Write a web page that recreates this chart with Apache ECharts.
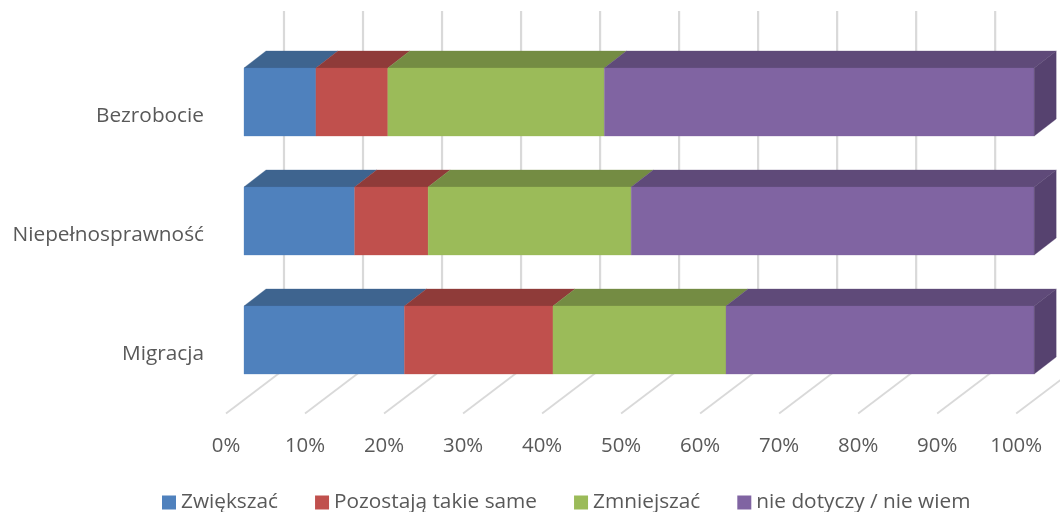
<!DOCTYPE html>
<html>
<head>
<meta charset="utf-8">
<script src="https://cdn.jsdelivr.net/npm/echarts@6/dist/echarts.min.js"></script>
<style>
  html, body { margin: 0; padding: 0; background: #fff; }
  #chart { width: 1060px; height: 512px; }
</style>
</head>
<body>
<div id="chart"></div>
<script>
// Responses per topic, in percent of all answers
const categories = ['Bezrobocie', 'Niepełnosprawność', 'Migracja'];
const seriesNames = ['Zwiększać', 'Pozostają takie same', 'Zmniejszać', 'nie dotyczy / nie wiem'];
const increase = [9.1, 14.0, 20.3];
const unchanged = [9.1, 9.3, 18.8];
const decrease = [27.4, 25.7, 21.9];
const notApplicable = [54.4, 51.0, 39.0];
const ticks = [0, 10, 20, 30, 40, 50, 60, 70, 80, 90, 100];

const frontColors = ['#4F81BD', '#C0504D', '#9BBB59', '#8064A2'];
const topColors = ['#3E648F', '#8F3B39', '#748C43', '#5F4A79'];
const sideColor = '#56426F';

const FONT = '"Open Sans", sans-serif';
const TEXT = '#595959';
const GRID = '#D9D9D9';

// Oblique projection of the chart box, in pixels
const FLOOR_DX = 58, FLOOR_DY = -44;
const BAR_INSET_DX = 18, BAR_INSET_DY = -14;
const BAR_DX = 22, BAR_DY = -17;
const WALL_TOP = 11;
const BAR_RATIO = 0.572;

function poly(points, fill) {
  return { type: 'polygon', shape: { points }, style: { fill, stroke: fill, lineWidth: 0.3 } };
}

// Floor diagonal plus back-wall upright for one tick
function renderGridline(params, api) {
  const x = api.coord([api.value(0), categories[0]])[0];
  const base = params.coordSys.y + params.coordSys.height;
  const style = { stroke: GRID, fill: null };
  return {
    type: 'group',
    children: [
      { type: 'line', shape: { x1: x, y1: base, x2: x + FLOOR_DX, y2: base + FLOOR_DY },
        style: { ...style, lineWidth: 1.8 } },
      { type: 'line', shape: { x1: x + FLOOR_DX, y1: base + FLOOR_DY, x2: x + FLOOR_DX, y2: WALL_TOP },
        style: { ...style, lineWidth: 2.2 } }
    ]
  };
}

// One stacked segment drawn as an oblique box
function makeSegmentRenderer(index, isLast) {
  return function (params, api) {
    const start = api.coord([api.value(1), api.value(0)]);
    const end = api.coord([api.value(2), api.value(0)]);
    const h = api.size([0, 1])[1] * BAR_RATIO;
    const x0 = start[0] + BAR_INSET_DX;
    const x1 = end[0] + BAR_INSET_DX;
    const yTop = start[1] + BAR_INSET_DY - h / 2;
    const yBot = yTop + h;
    const children = [
      poly([[x0, yTop], [x1, yTop], [x1 + BAR_DX, yTop + BAR_DY], [x0 + BAR_DX, yTop + BAR_DY]], topColors[index]),
      poly([[x0, yTop], [x1, yTop], [x1, yBot], [x0, yBot]], frontColors[index])
    ];
    if (isLast) {
      children.push(poly([[x1, yTop], [x1 + BAR_DX, yTop + BAR_DY], [x1 + BAR_DX, yBot + BAR_DY], [x1, yBot]], sideColor));
    }
    return { type: 'group', children };
  };
}

const valueRows = [increase, unchanged, decrease, notApplicable];
const running = categories.map(() => 0);
const barSeries = valueRows.map((row, s) => {
  const data = row.map((v, c) => {
    const from = running[c];
    running[c] += v;
    return [c, from, running[c]];
  });
  return {
    name: seriesNames[s],
    type: 'custom',
    renderItem: makeSegmentRenderer(s, s === valueRows.length - 1),
    encode: { x: [1, 2], y: 0 },
    itemStyle: { color: frontColors[s] },
    clip: false,
    z: 3 + s,
    data
  };
});

const chart = echarts.init(document.getElementById('chart'), null, { renderer: 'canvas' });
chart.setOption({
  animation: false,
  backgroundColor: '#fff',
  grid: { left: 226, width: 790.2, top: 56.5, height: 357, containLabel: false },
  legend: {
    data: seriesNames,
    left: 162,
    top: 492,
    padding: 0,
    itemWidth: 14,
    itemHeight: 14,
    itemGap: 37,
    icon: 'rect',
    selectedMode: false,
    textStyle: { fontFamily: FONT, fontSize: 20.8, color: TEXT }
  },
  xAxis: {
    type: 'value',
    min: 0,
    max: 100,
    interval: 10,
    axisLine: { show: false },
    axisTick: { show: false },
    splitLine: { show: false },
    axisLabel: { formatter: '{value}%', fontFamily: FONT, fontSize: 20.4, color: TEXT, margin: 23 }
  },
  yAxis: {
    type: 'category',
    inverse: true,
    data: categories,
    axisLine: { show: false },
    axisTick: { show: false },
    axisLabel: { fontFamily: FONT, fontSize: 20.8, color: TEXT, margin: 22, padding: [7, 0, 0, 0] }
  },
  series: [
    {
      type: 'custom',
      name: 'gridlines',
      renderItem: renderGridline,
      encode: { x: 0 },
      clip: false,
      silent: true,
      z: 1,
      data: ticks.map(t => [t])
    },
    ...barSeries
  ]
});
</script>
</body>
</html>
